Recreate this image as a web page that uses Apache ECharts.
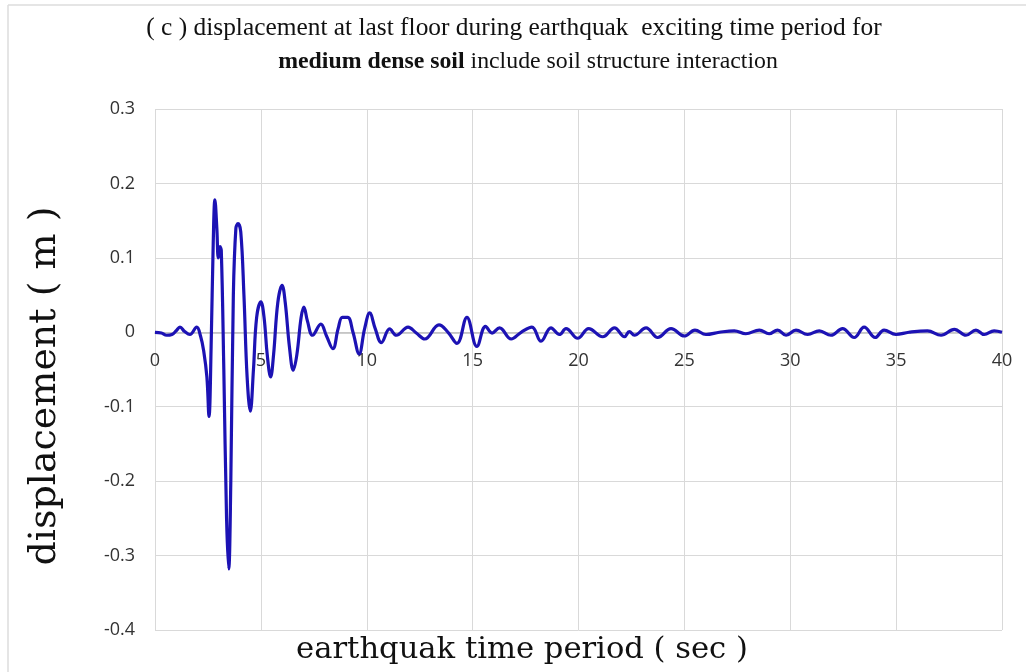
<!DOCTYPE html>
<html>
<head>
<meta charset="utf-8">
<script src="https://cdn.jsdelivr.net/npm/echarts@6/dist/echarts.min.js"></script>
<style>
html,body{margin:0;padding:0;background:#fff;}
#chart{width:1026px;height:672px;}
</style>
</head>
<body>
<div id="chart"></div>
<script>
// Time (sec) and displacement (m)
const times = [0, 0.3, 0.55, 0.8, 1.0, 1.18, 1.4, 1.65, 1.97, 2.15, 2.3, 2.45, 2.55, 2.65, 2.75, 2.83, 2.92, 2.99, 3.07, 3.13, 3.25, 3.38, 3.48, 3.58, 3.7, 3.82, 3.92, 4.05, 4.2, 4.35, 4.5, 4.65, 4.8, 5.0, 5.15, 5.3, 5.46, 5.6, 5.8, 6.0, 6.15, 6.35, 6.53, 6.7, 6.9, 7.03, 7.2, 7.44, 7.83, 8.1, 8.4, 8.65, 8.85, 9.1, 9.35, 9.64, 9.9, 10.14, 10.4, 10.69, 11.08, 11.4, 11.95, 12.34, 12.74, 13.41, 13.84, 14.26, 14.73, 15.2, 15.61, 15.92, 16.27, 16.82, 17.29, 17.8, 18.23, 18.7, 19.1, 19.41, 19.96, 20.48, 21.14, 21.7, 22.17, 22.4, 22.64, 23.19, 23.74, 24.37, 25.0, 25.5, 26.02, 26.65, 27.36, 27.9, 28.54, 29.0, 29.4, 29.8, 30.27, 30.82, 31.37, 31.92, 32.47, 33.02, 33.49, 34.01, 34.43, 34.99, 35.6, 36.48, 37.12, 37.75, 38.3, 38.77, 39.16, 39.63, 40];
const displacement = [0, -0.001, -0.004, -0.003, 0.002, 0.007, 0.001, -0.003, 0.007, -0.005, -0.025, -0.06, -0.113, -0.02, 0.12, 0.178, 0.14, 0.1, 0.115, 0.11, -0.05, -0.25, -0.318, -0.2, 0.05, 0.14, 0.146, 0.135, 0.05, -0.06, -0.106, -0.05, 0.02, 0.041, 0.02, -0.03, -0.06, -0.03, 0.04, 0.063, 0.04, -0.02, -0.051, -0.03, 0.02, 0.034, 0.015, -0.004, 0.011, -0.005, -0.022, 0.005, 0.02, 0.02, 0.0, -0.029, 0.005, 0.026, 0.005, -0.014, 0.0045, -0.004, 0.007, -0.001, -0.009, 0.01, 0.0, -0.015, 0.02, -0.019, 0.008, -0.001, 0.006, -0.009, 0.0, 0.007, -0.012, 0.006, -0.003, 0.005, -0.008, 0.005, -0.006, 0.006, -0.006, 0.001, -0.004, 0.006, -0.007, 0.005, -0.005, 0.003, -0.003, 0.0, 0.002, -0.002, 0.003, -0.002, 0.003, -0.004, 0.003, -0.003, 0.002, -0.004, 0.005, -0.007, 0.007, -0.007, 0.003, -0.003, 0.0, 0.002, -0.004, 0.004, -0.004, 0.003, -0.003, 0.002, 0.0];

const titleLine1 = '( c ) displacement at last floor during earthquak  exciting time period for';
const titleBold = 'medium dense soil';
const titleRest = ' include soil structure interaction';
const xName = 'earthquak time period ( sec )';
const yName = 'displacement ( m )';

const data = times.map((t, i) => [t, displacement[i]]);

const chart = echarts.init(document.getElementById('chart'));
chart.setOption({
  animation: false,
  backgroundColor: '#ffffff',
  grid: { left: 155, right: 24, top: 109, bottom: 42 },
  xAxis: {
    type: 'value', min: 0, max: 40, interval: 5,
    offset: -297.7,
    axisLine: { onZero: false, lineStyle: { color: '#bfbfbf', width: 1.5 } },
    axisTick: { show: false },
    axisLabel: { color: '#333333', fontSize: 18, fontFamily: 'Open Sans', margin: 20 },
    splitLine: { show: true, lineStyle: { color: '#d9d9d9', width: 1 } }
  },
  yAxis: {
    type: 'value', min: -0.4, max: 0.3, interval: 0.1,
    axisLine: { show: false },
    axisTick: { show: false },
    axisLabel: { color: '#333333', fontSize: 18, fontFamily: 'Open Sans', margin: 20 },
    splitLine: { show: true, lineStyle: { color: '#d9d9d9', width: 1 } }
  },
  series: [{
    type: 'line',
    data: data,
    smooth: 0.4,
    showSymbol: false,
    lineStyle: { color: '#1c12b4', width: 3.2 },
    z: 5
  }],
  graphic: [
    { type: 'line', shape: { x1: 8, y1: 5, x2: 1026, y2: 5 }, style: { stroke: '#dcdcdc', lineWidth: 1.5 }, silent: true, z: -1 },
    { type: 'line', shape: { x1: 8, y1: 5, x2: 8, y2: 672 }, style: { stroke: '#dcdcdc', lineWidth: 1.5 }, silent: true, z: -1 },
    { type: 'text', x: 514, y: 28, style: { text: titleLine1, font: '25.4px "Liberation Serif"', fill: '#111', textAlign: 'center', textVerticalAlign: 'middle' } },
    { type: 'text', x: 528, y: 62, style: {
        text: '{b|' + titleBold + '}' + titleRest,
        font: '23.8px "Liberation Serif"', fill: '#111', textAlign: 'center', textVerticalAlign: 'middle',
        rich: { b: { fontWeight: 'bold', fontFamily: 'Liberation Serif', fontSize: 23.8, fill: '#111' } }
      } },
    { type: 'text', x: 522, y: 650, style: { text: xName, font: '30.6px "DejaVu Serif"', fill: '#111', textAlign: 'center', textVerticalAlign: 'middle' } },
    { type: 'text', x: 45, y: 386, rotation: Math.PI / 2, style: { text: yName, font: '38px "DejaVu Serif"', fill: '#111', textAlign: 'center', textVerticalAlign: 'middle' } }
  ]
});
</script>
</body>
</html>
